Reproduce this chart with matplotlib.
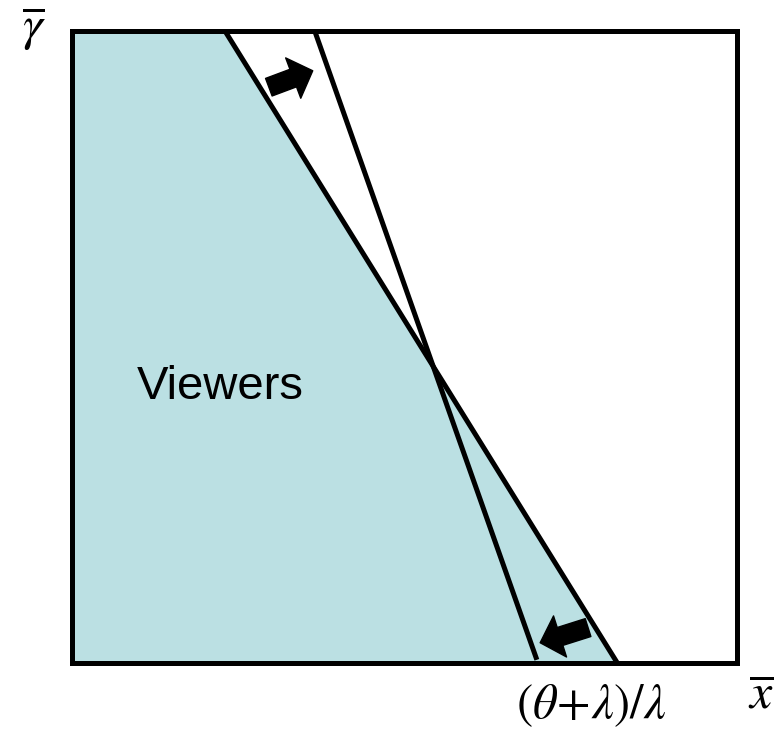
import matplotlib
matplotlib.use('Agg')
import matplotlib.pyplot as plt

plt.rcParams['mathtext.fontset'] = 'stix'
plt.rcParams['font.family'] = 'Liberation Sans'

# boundary lines (x at top edge, x at bottom edge), axes run 0..1
old_x = [0.230, 0.820]
old_y = [1.0, 0.0]
new_x = [0.365, 0.699]
new_y = [1.0, 0.005]

# shaded region of viewers
viewer_x = [0.0, 0.0, old_x[0], old_x[1]]
viewer_y = [0.0, 1.0, old_y[0], old_y[1]]

# shift arrows: (tail, tip)
arrow_top = [(0.296, 0.911), (0.362, 0.937)]
arrow_bot = [(0.776, 0.056), (0.704, 0.032)]

fig = plt.figure(figsize=(7.8, 7.35), dpi=100)
ax = fig.add_axes([0.0923, 0.098, 0.8526, 0.8599])
ax.set_xlim(0, 1)
ax.set_ylim(0, 1)

ax.fill(viewer_x, viewer_y, color='#BBE0E3', lw=0)
ax.plot(old_x, old_y, color='black', lw=3.6, solid_capstyle='butt')
ax.plot(new_x, new_y, color='black', lw=3.6, solid_capstyle='butt')

for tail, tip in [arrow_top, arrow_bot]:
    ax.annotate('', xy=tip, xytext=tail,
                arrowprops=dict(arrowstyle='simple,head_length=1.5,head_width=3.1,tail_width=1.35',
                                color='black', mutation_scale=10, shrinkA=0, shrinkB=0))

ax.text(0.2226, 0.437, 'Viewers', fontsize=34, ha='center', va='center')

ax.set_xticks([])
ax.set_yticks([])
for s in ax.spines.values():
    s.set_linewidth(3.6)

fig.text(0.044, 0.962, r'$\overline{\gamma}$', fontsize=36, ha='center', va='center')
fig.text(0.976, 0.055, r'$\overline{x}$', fontsize=36, ha='center', va='center')
fig.text(0.758, 0.040, r'$(\theta\!+\!\lambda)/\lambda$', fontsize=35, ha='center', va='center')

fig.savefig('out.png', dpi=100)
